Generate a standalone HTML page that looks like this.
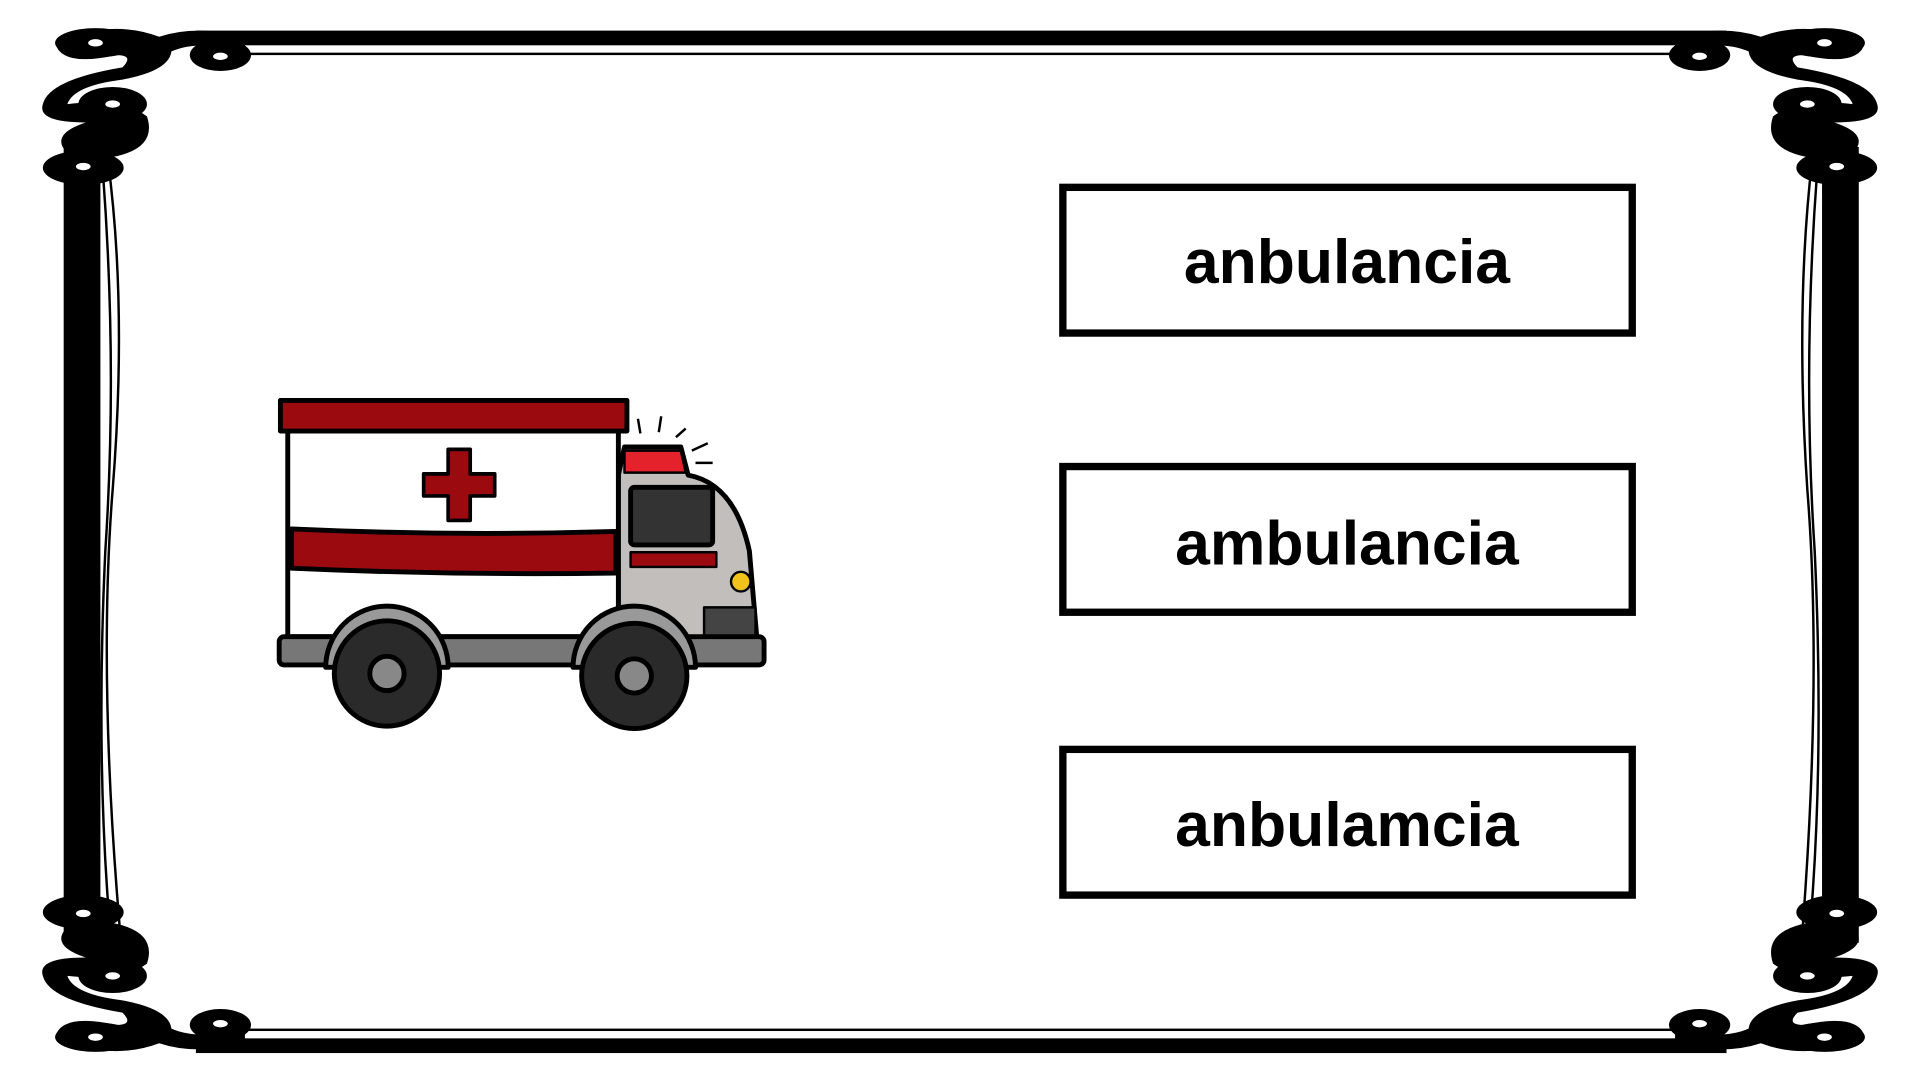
<!DOCTYPE html>
<html><head><meta charset="utf-8"><style>
html,body{margin:0;padding:0;background:#fff;}
svg{display:block;}
</style></head><body>
<svg width="1920" height="1080" viewBox="0 0 1568 882" xmlns="http://www.w3.org/2000/svg">
<rect width="1568" height="882" fill="#fff"/>
<g fill="#000">
<rect x="160" y="25" width="1250" height="12"/>
<rect x="160" y="43" width="1250" height="2"/>
<rect x="160" y="848" width="1250" height="12"/>
<rect x="160" y="840" width="1250" height="2"/>
<rect x="52" y="120" width="30" height="650"/>
<rect x="1488" y="120" width="30" height="650"/>
</g>
<g fill="none" stroke="#000" stroke-width="2">
<path d="M88 130 Q104 250 92 400 Q80 550 98 760"/>
<path d="M84 140 Q96 300 86 450 Q78 620 90 760"/>
<path d="M1480 130 Q1466 250 1476 400 Q1488 550 1472 760"/>
<path d="M1484 140 Q1472 300 1482 450 Q1490 620 1478 760"/>
</g>
<g id="c" fill="#000">
<path d="M45 35 Q90 15 130 30 Q160 20 200 30 L200 40 Q160 33 140 42 Q138 58 100 65 Q60 70 55 85 Q100 80 120 95 Q130 125 80 130 L55 125 Q40 110 70 100 Q30 100 35 85 Q40 65 100 55 Q110 45 95 45 Q50 55 45 35Z"/>
<ellipse cx="78" cy="35" rx="33" ry="12"/>
<ellipse cx="180" cy="45" rx="25" ry="13"/>
<ellipse cx="92" cy="85" rx="28" ry="14"/>
<ellipse cx="68" cy="137" rx="33" ry="14"/>
<g fill="#fff">
<ellipse cx="78" cy="35" rx="6" ry="3"/>
<ellipse cx="180" cy="46" rx="6" ry="3"/>
<ellipse cx="92" cy="85" rx="6" ry="3"/>
<ellipse cx="68" cy="136" rx="6" ry="3"/>
</g>
</g>
<use href="#c" transform="translate(1568,0) scale(-1,1)"/>
<use href="#c" transform="translate(0,882) scale(1,-1)"/>
<use href="#c" transform="translate(1568,882) scale(-1,-1)"/>
<g fill="none" stroke="#000" stroke-width="6">
<rect x="868" y="153" width="465" height="119"/>
<rect x="868" y="381" width="465" height="119"/>
<rect x="868" y="612" width="465" height="119"/>
</g>
<g font-family="'Liberation Sans',sans-serif" font-weight="bold" font-size="51" text-anchor="middle" fill="#000">
<text x="1100" y="231">anbulancia</text>
<text x="1100" y="461">ambulancia</text>
<text x="1100" y="691">anbulamcia</text>
</g>
<g stroke="#000" stroke-width="4" stroke-linejoin="round">
<path d="M505 388 L510 365 L556 365 L562 388 Q600 395 612 450 L618 520 L505 522Z" fill="#c2bebc"/>
<path d="M510 368 L556 368 L560 386 L510 386Z" fill="#e4222c" stroke-width="2"/>
<rect x="515" y="398" width="67" height="47" rx="3" fill="#333"/>
<rect x="515" y="451" width="70" height="12" fill="#9b0a0e" stroke-width="2"/>
<rect x="575" y="496" width="42" height="26" fill="#444" stroke-width="2"/>
<circle cx="605" cy="475" r="8" fill="#f1c21b" stroke-width="2"/>
<rect x="235" y="350" width="270" height="170" fill="#fff"/>
<path d="M238 432 Q370 438 503 434 L503 468 Q370 470 238 464Z" fill="#9b0a0e"/>
<rect x="229" y="327" width="283" height="25" fill="#9b0a0e"/>
<path d="M366 367 h18 v20 h20 v18 h-20 v20 h-18 v-20 h-20 v-18 h20z" fill="#9b0a0e" stroke-width="3"/>
<rect x="228" y="520" width="396" height="23" rx="4" fill="#777"/>
<path d="M266 545 A50 50 0 0 1 366 545Z" fill="#999"/>
<path d="M468 545 A50 50 0 0 1 568 545Z" fill="#999"/>
<circle cx="316" cy="550" r="43" fill="#2a2a2a"/>
<circle cx="316" cy="550" r="14" fill="#888"/>
<circle cx="518" cy="552" r="43" fill="#2a2a2a"/>
<circle cx="518" cy="552" r="14" fill="#888"/>
</g>
<g stroke="#000" stroke-width="2">
<line x1="521" y1="342" x2="523" y2="354"/><line x1="540" y1="340" x2="538" y2="353"/>
<line x1="560" y1="350" x2="552" y2="357"/><line x1="578" y1="362" x2="565" y2="368"/><line x1="582" y1="378" x2="568" y2="378"/>
</g>
</svg>
</body></html>
